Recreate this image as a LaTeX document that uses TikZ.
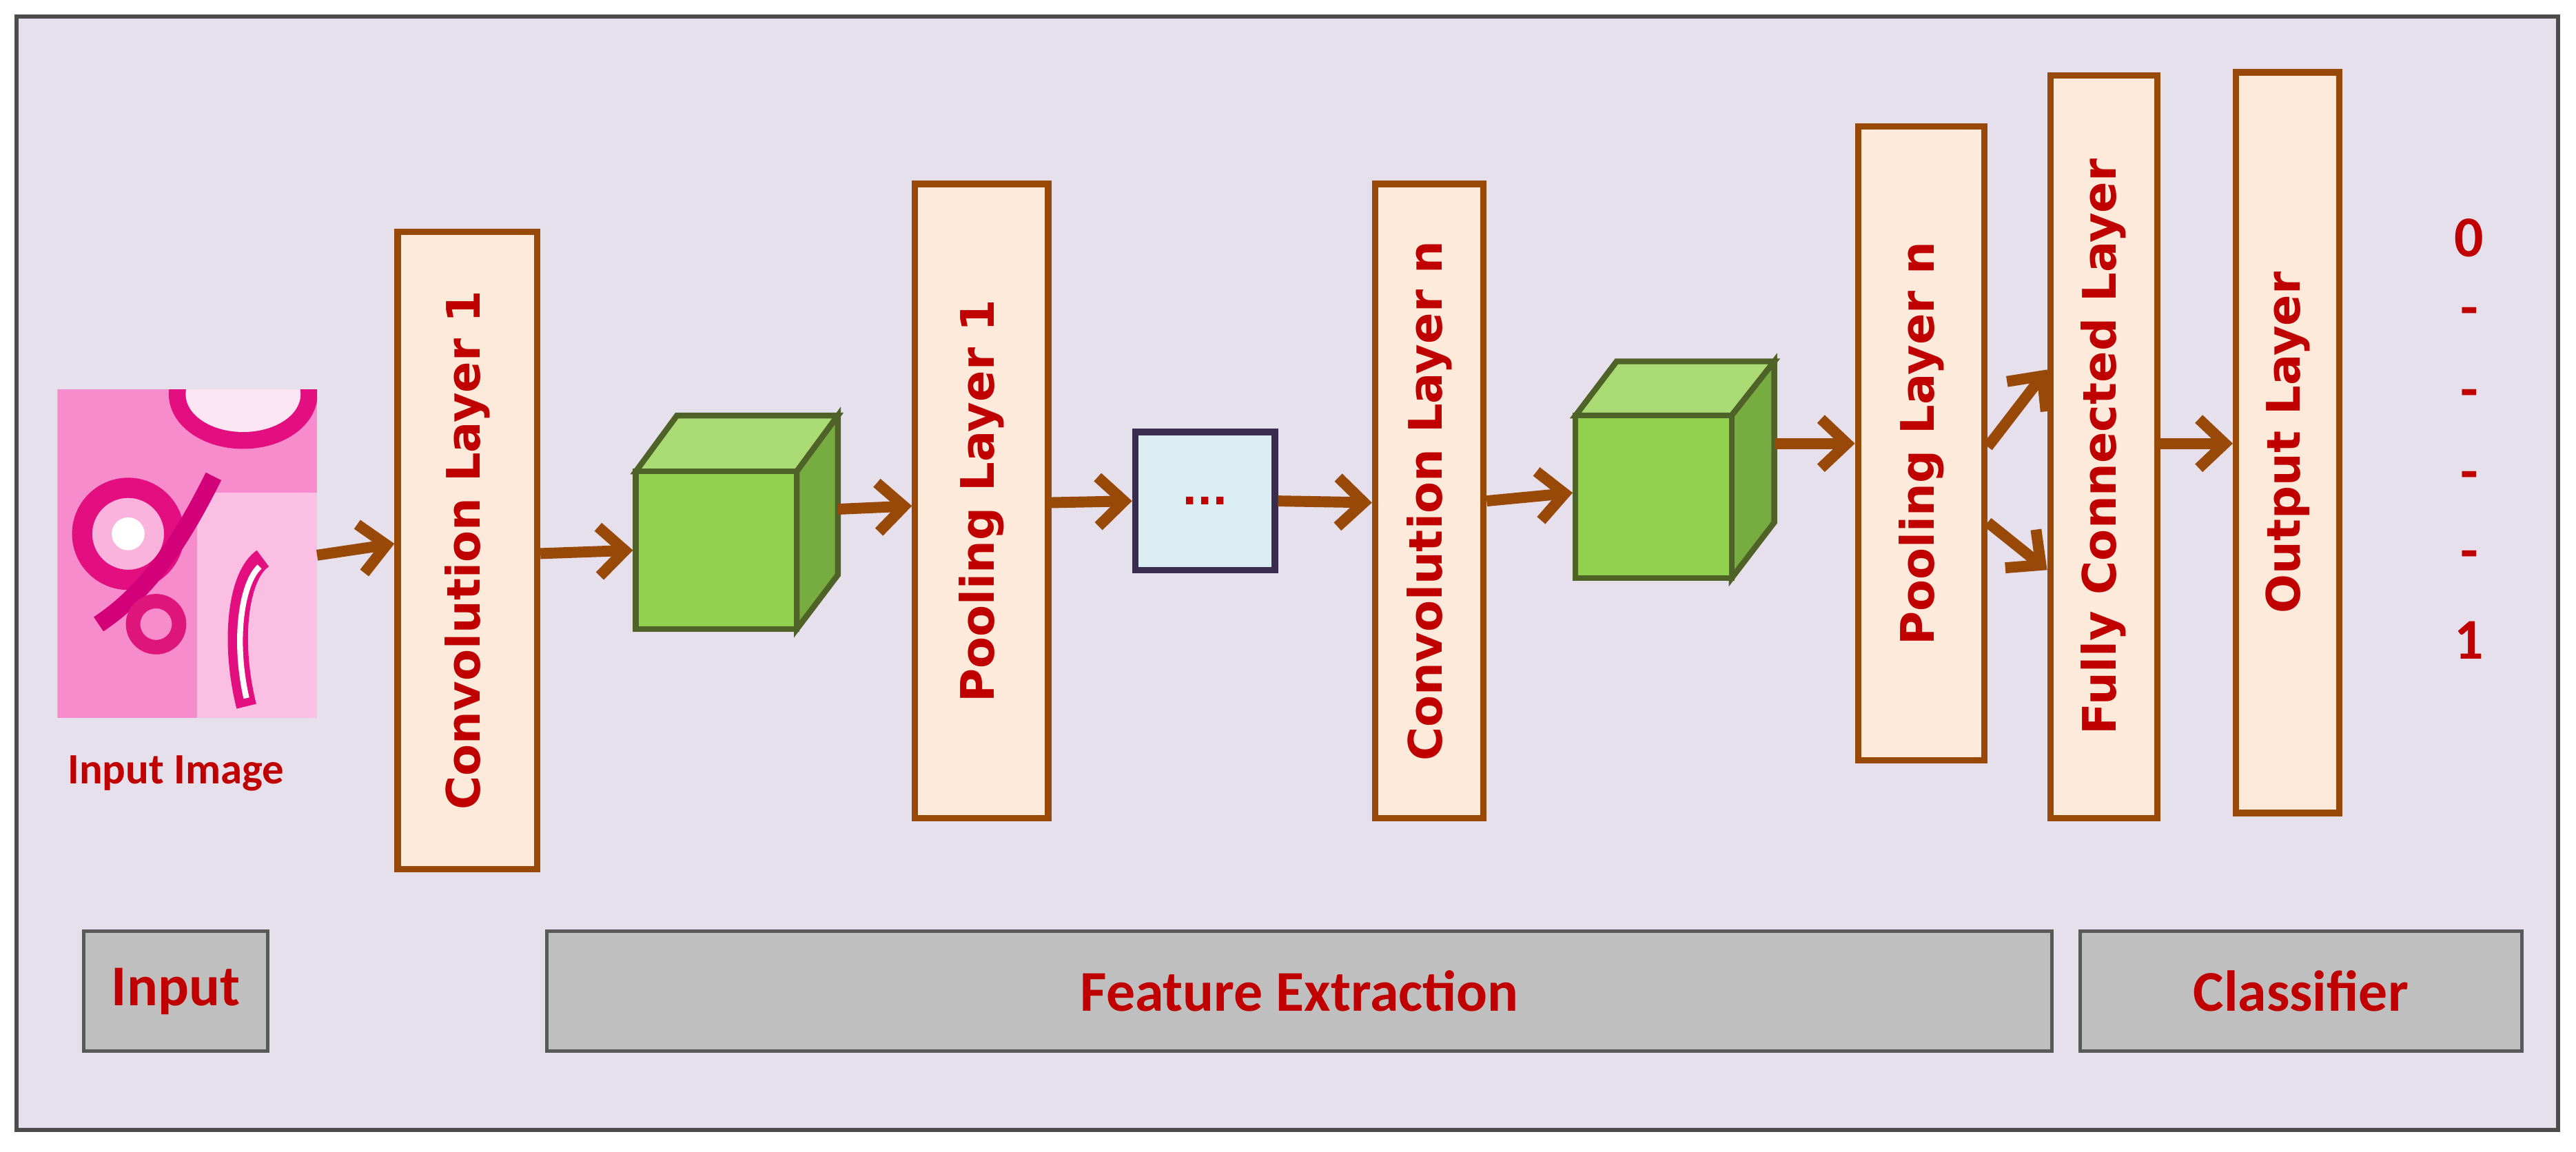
\documentclass[tikz,border=0pt]{standalone}
\usepackage{fontspec}
\setmainfont{Carlito}
\newfontfamily\vfont{DejaVu Sans}
\usetikzlibrary{arrows.meta}
\definecolor{bg}{HTML}{E6E0EC}
\definecolor{peach}{HTML}{FDEADA}
\definecolor{brn}{HTML}{984807}
\definecolor{dred}{HTML}{C00000}
\definecolor{gfront}{HTML}{92D050}
\definecolor{gtop}{HTML}{A9DA74}
\definecolor{gside}{HTML}{77AC40}
\definecolor{gedge}{HTML}{4F6228}
\definecolor{lblue}{HTML}{DAEEF3}
\definecolor{navy}{HTML}{3A2C4E}
\definecolor{gbar}{HTML}{BFBFBF}
\begin{document}
\begin{tikzpicture}[x=0.02cm,y=-0.02cm,
  layer/.style={draw=brn,line width=2.2pt,fill=peach,inner sep=0pt},
  ltext/.style={rotate=90,text=dred,font=\vfont\bfseries\fontsize{16}{18}\selectfont},
  bar/.style={draw=black!65,line width=1.2pt,fill=gbar,inner sep=0pt},
  btext/.style={text=dred,font=\bfseries\fontsize{20}{24}\selectfont},
  arr/.style={draw=brn,line width=3.8pt,-{Straight Barb[length=9pt,width=17pt,line width=3.8pt]}},
  cubeface/.style={draw=gedge,line width=2pt,line join=miter}]
\useasboundingbox (0,0) rectangle (1568,701);
\fill[white] (0,0) rectangle (1568,701);
\draw[fill=bg,draw=black!70,line width=1.5pt] (10,10) rectangle (1557,688);
% input image
\begin{scope}
\clip (35,237) rectangle (193,437);
\fill[magenta!45!white] (35,237) rectangle (193,437);
\fill[magenta!25!white] (120,300) rectangle (193,437);
\draw[magenta!80!purple,line width=6pt] (148,240) ellipse (40 and 28);
\fill[white!90!magenta] (148,240) ellipse (35 and 23);
\draw[magenta!80!purple,line width=7pt,fill=magenta!30] (78,325) circle (28);
\fill[white] (78,325) circle (10);
\draw[purple!70!magenta,line width=6pt] (60,380) .. controls (90,360) and (110,330) .. (130,290);
\draw[magenta!80!purple,line width=7pt] (150,430) .. controls (140,390) and (145,350) .. (160,340);
\draw[magenta!70!purple,line width=5pt] (95,380) circle (14);
\draw[white,line width=2pt] (150,425) .. controls (142,390) and (147,355) .. (158,345);
\end{scope}
\node[coordinate] (img) at (193,338) {};
\node[text=dred,font=\bfseries\fontsize{15}{18}\selectfont] (imgt) at (107,471) {Input Image};
% layers
\node[layer,minimum width=85*0.02cm,minimum height=388*0.02cm] (c1) at (284.5,335) {};
\node[ltext] at (c1) {Convolution Layer 1};
\node[layer,minimum width=81*0.02cm,minimum height=386*0.02cm] (p1) at (597.5,305) {};
\node[ltext] at (p1) {Pooling Layer 1};
\node[layer,minimum width=66*0.02cm,minimum height=386*0.02cm] (cn) at (870,305) {};
\node[ltext] at (cn) {Convolution Layer n};
\node[layer,minimum width=77*0.02cm,minimum height=386*0.02cm] (pn) at (1169.5,270) {};
\node[ltext] at (pn) {Pooling Layer n};
\node[layer,minimum width=65*0.02cm,minimum height=452*0.02cm] (fc) at (1280.5,272) {};
\node[ltext] at (fc) {Fully Connected Layer};
\node[layer,minimum width=63*0.02cm,minimum height=451*0.02cm] (out) at (1392.5,269.5) {};
\node[ltext] at (out) {Output Layer};
% dots box
\node[draw=navy,line width=2.2pt,fill=lblue,minimum width=85*0.02cm,minimum height=84*0.02cm,text=dred,font=\vfont\bfseries\fontsize{14}{16}\selectfont] (dots) at (733.5,305) {...};
% cube 1
\draw[cubeface,fill=gtop] (387,287) -- (412,253) -- (510,253) -- (485,287) -- cycle;
\draw[cubeface,fill=gside] (485,287) -- (510,253) -- (510,350) -- (485,383) -- cycle;
\node[cubeface,draw,fill=gfront,minimum width=98*0.02cm,minimum height=96*0.02cm,inner sep=0pt] (cb1) at (436,335) {};
\coordinate (cb1r) at (510,310);
% cube 2
\draw[cubeface,fill=gtop] (959,253) -- (984,220) -- (1080,220) -- (1054,253) -- cycle;
\draw[cubeface,fill=gside] (1054,253) -- (1080,220) -- (1080,318) -- (1054,352) -- cycle;
\node[cubeface,draw,fill=gfront,minimum width=95*0.02cm,minimum height=99*0.02cm,inner sep=0pt] (cb2) at (1006.5,302.5) {};
\coordinate (cb2r) at (1080,270);
% arrows
\draw[arr] (img) -- (c1.west |- 0,331);
\draw[arr] (c1.east |- 0,337) -- (cb1.west |- 0,335);
\draw[arr] (cb1r) -- (p1.west |- 0,308);
\draw[arr] (p1.east |- 0,306) -- (dots.west);
\draw[arr] (dots.east) -- (cn.west |- 0,306);
\draw[arr] (cn.east |- 0,305) -- (cb2.west |- 0,300);
\draw[arr] (cb2r) -- (pn.west |- 0,270);
\draw[arr] (pn.east |- 0,272) -- (fc.west |- 0,225);
\draw[arr] (pn.east |- 0,318) -- (fc.west |- 0,347);
\draw[arr] (fc.east |- 0,270) -- (out.west |- 0,270);
% outputs
\foreach \t/\y in {0/145,-/193,-/243,-/293,-/341,1/390}
  \node[text=dred,font=\bfseries\fontsize{20}{24}\selectfont] at (1503,\y) {\t};
% bottom bars
\node[bar,minimum width=112*0.02cm,minimum height=73*0.02cm] (bi) at (107,603.5) {};
\node[btext] at (bi) {Input};
\node[bar,minimum width=916*0.02cm,minimum height=73*0.02cm] (bf) at (791,603.5) {};
\node[btext] at (bf) {Feature Extraction};
\node[bar,minimum width=269*0.02cm,minimum height=73*0.02cm] (bc) at (1400.5,603.5) {};
\node[btext] at (bc) {Classifier};
\end{tikzpicture}
\end{document}
